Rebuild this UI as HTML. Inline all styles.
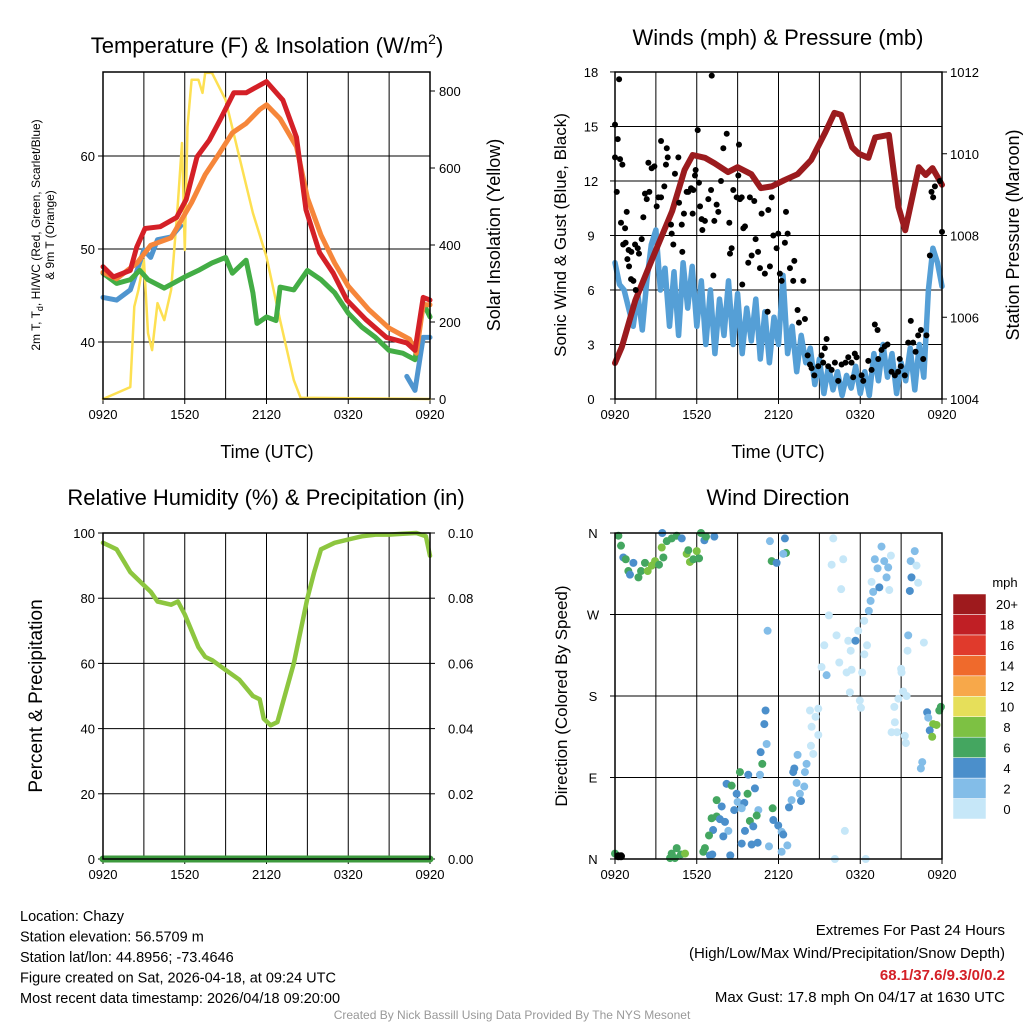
<!DOCTYPE html>
<html><head><meta charset="utf-8"><style>
body{margin:0;background:#fff;}
svg{display:block;font-family:"Liberation Sans",sans-serif;}
</style></head><body>
<svg id="c" width="1024" height="1024" viewBox="0 0 1024 1024"></svg>
<script>
// ---------- DATA ----------
const tempHours=[0,0.76,2.0,2.47,3.08,4.2,5.4,6.1,6.9,7.8,8.6,9.6,10.5,11.5,12.0,13.2,14.2,14.9,15.9,16.9,17.9,19.3,20.8,22.3,22.9,23.5,24];
const tempRed=[48.1,47.0,47.7,50.2,52.2,52.4,53.4,55.3,59.9,61.7,63.9,66.8,66.8,67.6,68.0,66.0,62.0,54.2,49.6,47.4,44.5,42.4,40.5,39.9,39.1,44.8,44.5];
const orHours=[0,1,2.5,3.5,5,6.5,7.5,8.5,9.5,10.5,11.5,12,13,14.2,15,16,17,18,19.5,21,22.5,23,23.5,24];
const tempOrange=[47.5,46.8,48.5,50.4,51.2,55,58,60.2,62.5,63.5,65,65.5,64,61,55.5,51.5,48.5,46,43.5,41.5,40.3,38.8,44,44];
const dewHours=[0,1,2,2.7,3.3,4.5,6,7,8,9,9.5,10.5,11,11.3,12,12.7,13,14,15,16,17,18,19,20,21,22,22.9,23.5,24];
const dewGreen=[47.4,46.3,46.7,47.7,46.7,45.8,47,47.7,48.5,49.1,47.4,48.8,45.3,42.0,42.7,42.3,45.9,45.6,47.7,46.7,45.3,43.1,41.6,40.5,39.1,38.8,38.1,44.2,42.7];
const hiHours=[0,1,2,2.5,3,3.5,4,5,5.7];
const hiBlue=[44.8,44.5,45.6,47.7,49.9,49.1,51,51.3,52.5];
const hiHours2=[22.3,22.9,23.5,24];
const hiBlue2=[36.3,34.8,40.5,40.5];
const solHours=[0,1.5,2,2.3,2.6,3,3.3,3.6,4,4.5,5,5.5,5.8,6,6.2,6.5,7,7.3,7.5,8,9,10,11,12,13,14,14.5,24];
const solar=[0,23,31,240,283,361,171,127,249,205,283,509,665,387,707,829,829,795,847,847,777,629,483,369,205,49,3,0];
const tempTicks=[40,50,60];
const solTicks=[0,200,400,600,800];
const timeLabels=["0920","1520","2120","0320","0920"];

const presHours=[0,0.5,1.5,2.7,4.2,5.1,5.7,6.6,7.3,8.3,9.0,10.0,10.7,11.5,12.4,13.4,14.4,15.4,16.1,16.6,17.4,17.9,18.6,19.1,20.1,20.8,21.3,22.3,22.8,23.3,24];
const pressure=[1004.88,1005.27,1006.42,1007.4,1008.6,1009.6,1009.97,1009.9,1009.77,1009.55,1009.67,1009.5,1009.16,1009.2,1009.35,1009.5,1009.85,1010.5,1011.0,1010.95,1010.16,1010.0,1009.9,1010.4,1010.46,1008.7,1008.13,1009.67,1009.48,1009.65,1009.24];
const windSonic=[7.5,6.3,6.0,5.0,4.0,5.8,3.8,6.5,8.5,9.3,6.0,7.2,4.0,7.0,3.5,7.5,5.0,7.3,4.0,6.5,3.0,6.0,2.5,5.5,3.5,6.5,3.0,5.8,2.5,5.0,3.2,5.5,2.2,4.8,2.0,4.5,3.0,6.8,2.5,4.0,1.5,3.5,2.0,2.8,0.8,2.2,0.3,1.8,0.5,1.5,0.2,1.3,0.6,1.8,0.3,1.5,0.2,2.5,1.0,3.0,1.2,2.5,0.3,2.0,1.0,2.8,0.5,3.0,1.2,6.0,8.3,7.5,6.2];
const gustHours=[0.3,0,0.2,0,0.37,0.54,0.13,0.44,0.74,0.86,0.6,0.78,1.0,1.2,1.47,1.67,1.76,0.91,1.03,1.18,1.35,1.52,1.96,2.08,2.2,2.33,2.52,2.45,2.69,2.89,3.06,3.18,3.38,3.38,3.8,3.87,3.74,3.62,4.16,4.28,4.11,4.4,4.65,4.7,5.06,4.9,4.94,5.26,5.38,5.58,5.75,5.87,5.92,6.07,6.16,5.7,6.24,6.36,6.41,6.6,6.85,7.05,7.1,7.22,7.29,7.46,7.58,7.78,7.95,8.2,8.39,8.44,8.56,8.68,8.93,9.05,9.1,9.17,9.3,9.34,9.42,9.54,9.78,9.9,10.03,10.22,10.32,10.5,10.64,10.76,11.0,11.2,11.25,11.37,11.5,11.62,11.86,11.98,12.1,12.23,12.47,12.55,12.67,12.84,13.08,13.16,13.4,13.5,13.82,13.94,14.14,14.31,14.43,14.63,14.92,15.16,15.28,15.4,15.53,15.65,15.9,16.14,16.38,16.63,16.92,17.12,17.36,17.48,17.6,17.73,18.1,18.22,18.59,18.83,19.07,19.27,19.32,19.56,19.8,20.0,20.3,20.54,20.78,20.9,20.98,21.27,21.52,21.71,21.88,22.06,22.25,22.45,22.62,22.86,23.11,23.23,23.35,23.48,23.84,24.0];
const gustMph=[17.6,15.1,14.3,13.3,13.2,12.9,11.4,9.7,9.4,10.3,8.5,8.6,8.2,8.1,8.5,8.3,8.0,7.7,7.3,6.6,6.5,6.0,8.8,10.0,11.3,11.0,11.4,13.0,12.7,12.8,10.6,11.1,11.1,14.2,13.8,13.3,12.9,11.7,9.1,8.5,9.6,12.4,13.3,10.8,10.2,9.6,8.1,11.4,11.4,11.6,11.5,12.3,12.6,14.8,11.9,10.2,10.6,9.9,9.3,9.8,11.0,11.5,17.8,6.8,9.8,10.7,10.3,12.0,13.8,14.6,9.7,8.0,8.3,11.5,11.1,12.3,14.0,11.0,11.1,6.3,9.4,9.5,7.5,11.1,7.9,10.9,8.8,8.1,7.2,10.2,6.9,4.8,10.4,7.3,11.1,9.0,8.3,9.1,6.9,6.5,8.6,10.3,9.1,7.2,6.5,7.6,4.9,4.2,6.5,4.4,2.4,1.9,1.7,1.3,1.8,2.4,2.0,2.8,3.3,1.8,1.6,2.0,1.0,1.9,2.0,2.3,2.0,1.2,2.5,2.3,1.3,1.0,2.1,1.6,4.1,3.8,2.2,2.7,2.9,3.0,1.5,1.3,1.5,2.2,1.8,1.3,3.1,4.3,3.1,2.6,3.5,3.8,2.2,3.5,7.9,11.4,11.1,11.7,12.0,9.2];
const windTicks=[0,3,6,9,12,15,18];
const presTicks=[1004,1006,1008,1010,1012];

const rhHours=[0,0.5,1,2,3,3.5,4,5,5.5,6,6.5,7,7.5,8,9,10,11,11.5,11.8,12.3,12.8,13.2,14,14.5,15,15.5,16,17,18,19,20,21,22,23,23.7,24];
const rh=[97,96,95,88,84,82,79,78,79,75,70,65,62,61,58,55,50,49,43,41,42,48,60,70,80,88,95,97,98,99,99.5,99.5,99.8,100,99,93];
const precipHours=[0,24];
const precip=[0,0];
const rhTicks=[0,20,40,60,80,100];
const precipTicks=["0.00","0.02","0.04","0.06","0.08","0.10"];

const dirHours=[0.25,0.44,0.61,0.79,0.98,1.1,1.35,1.72,1.91,2.2,2.4,2.7,2.94,3.23,3.43,3.55,3.8,3.47,4.16,4.53,4.9,5.26,5.38,5.5,5.75,6.0,6.17,6.31,6.56,6.68,7.29,11.37,12.47,11.5,11.86,12.55,12.35,11.2,16.02,15.9,16.75,16.6,15.7,16.26,15.36,15.16,15.53,16.46,17.0,17.36,17.12,17.3,17.65,17.85,18.3,18.5,18.14,17.24,17.97,18.05,18.29,18.63,18.76,18.83,18.95,19.4,19.07,19.27,19.56,19.76,19.93,20.05,20.25,20.13,21.0,21.03,21.15,21.4,20.8,20.5,20.54,20.3,20.7,21.27,21.35,21.52,21.47,22.67,21.7,22.0,22.13,21.76,22.25,21.64,22.91,22.99,23.35,23.6,23.92,23.8,23.1,23.28,22.55,22.45,16.87,16.14,18.4,14.92,14.31,14.72,14.43,14.92,14.38,14.55,14.06,13.94,13.4,13.16,13.08,13.89,13.57,13.33,13.65,12.96,12.77,11.05,10.96,11.13,10.69,10.81,10.64,9.78,9.17,8.19,8.56,8.93,10.27,9.73,9.0,9.49,7.46,7.83,8.75,9.3,10.52,11.57,10.4,9.9,7.09,7.46,7.7,8.07,8.32,7.2,6.9,7.95,9.54,10.15,11.62,11.98,12.23,12.35,9.3,10.03,10.47,11.3,12.65,12.23,8.46,6.6,6.48,6.97,7.14,4.16,4.04,4.53,4.84,5.14,4.4,0.0,0.25,0.44];
const dirDeg=[357,346,333,331,318,314,327,311,318,327,318,324,329,325,344,333,351,360,354,357,354,337,341,328,331,340,332,360,352,356,356,351,354,329,327,338,337,252,354,325,331,298,269,247,236,212,203,217,206,209,241,230,241,252,226,236,206,184,175,167,263,274,285,306,295,300,331,321,345,329,311,322,335,297,210,206,185,180,177,168,151,140,140,136,128,247,230,239,329,340,324,311,305,296,162,156,149,148,168,164,142,135,107,100,31,0,0,166,164,157,146,137,125,116,105,96,115,100,96,80,72,84,64,65,57,164,149,127,118,105,93,93,96,83,81,72,78,72,63,62,65,58,54,56,54,56,48,42,45,47,44,41,31,32,26,25,31,36,43,37,30,27,17,16,18,14,15,8,4,12,8,4,5,6,1,12,5,6,1,6,3,3];
const dirSpeed=[6,6,4,6,6,4,4,6,6,6,8,8,8,6,8,6,6,4,6,6,4,8,6,8,6,8,6,6,4,6,4,2,4,6,4,6,2,2,0,0,0,0,0,0,0,0,2,0,0,0,0,0,4,0,0,0,0,0,0,0,0,2,2,0,2,4,2,2,2,2,2,2,0,0,0,0,0,0,0,0,0,0,0,0,0,2,0,0,2,2,0,4,0,4,4,2,8,8,6,6,4,8,2,2,0,0,0,0,0,0,0,0,0,0,2,2,2,4,4,2,2,2,4,2,4,4,4,2,4,6,2,4,6,4,6,4,4,6,2,4,6,4,4,2,2,6,6,6,6,6,4,4,2,4,6,4,4,4,4,4,2,4,4,4,4,2,2,2,4,6,6,4,4,6,6,6,6,8,6,6];
const dirLabels=["N","E","S","W","N"];
const speedBins=["0","2","4","6","8","10","12","14","16","18","20+"];
const speedColors=["#c6e7f8","#83bde8","#4b8fcb","#44a660","#7dc143","#e6df5a","#f7a84a","#ef6a2c","#e03a2c","#c01f25","#9e1a1d"];

// ---------- DRAW ----------
const NS="http://www.w3.org/2000/svg";
const svg=document.getElementById('c');
function mk(tag,attrs,parent){const e=document.createElementNS(NS,tag);for(const k in attrs)e.setAttribute(k,attrs[k]);(parent||svg).appendChild(e);return e;}
function txt(x,y,s,size,anchor,rot,parent,extra){const t=mk('text',Object.assign({x:x,y:y,'font-size':size,'text-anchor':anchor||'middle',fill:'#000'},extra||{}),parent);if(rot)t.setAttribute('transform','rotate(-90 '+x+' '+y+')');t.textContent=s;return t;}

function panel(name,L,R,T,B){
  const g=mk('g',{});
  
  
  const xs=h=>L+(R-L)*h/24;
  for(let i=1;i<8;i++){const x=xs(i*3);const l=mk('line',{x1:x,x2:x,y1:T,y2:B,stroke:'#000','stroke-width':1},g);}
  timeLabels.forEach((s,i)=>{const x=xs(i*6);mk('line',{x1:x,x2:x,y1:B,y2:B+5,stroke:'#000'},g);const t=txt(x,B+20,s,13,'middle',false,g);});
  return {g,xs};
}
function hgrid(g,L,R,y){const l=mk('line',{x1:L,x2:R,y1:y,y2:y,stroke:'#000','stroke-width':1},g);}
function frame(g,L,R,T,B){const r=mk('rect',{x:L,y:T,width:R-L,height:B-T,fill:'none',stroke:'#000','stroke-width':1.5},g);}
function pathOf(hs,vs,xs,ys){let d='';let pen=false;hs.forEach((h,i)=>{if(vs[i]==null){pen=false;return;}d+=(pen?'L':'M')+xs(h).toFixed(1)+' '+ys(vs[i]).toFixed(1);pen=true;});return d;}
function line(g,name,hs,vs,xs,ys,color,w){const p=mk('path',{d:pathOf(hs,vs,xs,ys),fill:'none',stroke:color,'stroke-width':w,'stroke-linejoin':'round','stroke-linecap':'round'},g);return p;}

// Panel 1
(function(){
  const L=103,R=430,T=72,B=399;
  const {g,xs}=panel('temperature-panel',L,R,T,B);
  const ys=v=>156-(v-60)*9.3;
  const ysol=v=>399-v*0.385;
  tempTicks.forEach(v=>{hgrid(g,L,R,ys(v));mk('line',{x1:L-5,x2:L,y1:ys(v),y2:ys(v),stroke:'#000'},g);const t=txt(L-8,ys(v)+5,String(v),13,'end',false,g);});
  solTicks.forEach(v=>{mk('line',{x1:R,x2:R+5,y1:ysol(v),y2:ysol(v),stroke:'#000'},g);const t=txt(R+9,ysol(v)+5,String(v),13,'start',false,g);});
  line(g,'solar-line',solHours,solar,xs,ysol,'#fde052',2.5);
  line(g,'hiwc-line',hiHours,hiBlue,xs,ys,'#4f95cf',5);
  line(g,'hiwc-line-late',hiHours2,hiBlue2,xs,ys,'#4f95cf',5);
  line(g,'dewpoint-line',dewHours,dewGreen,xs,ys,'#43ad45',5);
  line(g,'temp-9m-line',orHours,tempOrange,xs,ys,'#f6863a',5);
  line(g,'temp-2m-line',tempHours,tempRed,xs,ys,'#d42027',5);
  frame(g,L,R,T,B);
  const t1=mk('text',{x:267,y:53,'font-size':22,'text-anchor':'middle'},g);t1.innerHTML='Temperature (F) &amp; Insolation (W/m<tspan font-size="14" dy="-9">2</tspan><tspan dy="9">)</tspan>';
  
  const a=mk('text',{x:40,y:235,'font-size':12,'text-anchor':'middle',transform:'rotate(-90 40 235)'},g);a.innerHTML='2m T, T<tspan font-size="9" dy="3">d</tspan><tspan dy="-3">, HI/WC (Red, Green, Scarlet/Blue)</tspan>';
  
  const a2=txt(54,235,'& 9m T (Orange)',12,'middle',true,g);
  const a3=txt(500,235,'Solar Insolation (Yellow)',18,'middle',true,g);
  const a4=txt(267,458,'Time (UTC)',18,'middle',false,g);
})();

// Panel 2
(function(){
  const L=615,R=942,T=72,B=399;
  const {g,xs}=panel('winds-panel',L,R,T,B);
  const ys=v=>399-v*18.17;
  const yp=v=>399-(v-1004)*40.875;
  windTicks.forEach(v=>{if(v>0&&v<18)hgrid(g,L,R,ys(v));mk('line',{x1:L-5,x2:L,y1:ys(v),y2:ys(v),stroke:'#000'},g);const t=txt(L-24,ys(v)+5,String(v),13,'middle',false,g);});
  presTicks.forEach(v=>{mk('line',{x1:R,x2:R+5,y1:yp(v),y2:yp(v),stroke:'#000'},g);const t=txt(R+8,yp(v)+5,String(v),13,'start',false,g);});
  const wh=windSonic.map((v,i)=>i/3);
  line(g,'sonic-wind-line',wh,windSonic,xs,ys,'#559fd6',5.5);
  line(g,'pressure-line',presHours,pressure,xs,yp,'#9b1b1e',6);
  gustHours.forEach((h,i)=>{const c=mk('circle',{cx:xs(h),cy:ys(gustMph[i]),r:3,fill:'#000'},g);});
  frame(g,L,R,T,B);
  const t1=txt(778,45,'Winds (mph) & Pressure (mb)',22,'middle',false,g);
  const a=txt(566,235,'Sonic Wind & Gust (Blue, Black)',17,'middle',true,g);
  const b=txt(1019,235,'Station Pressure (Maroon)',18,'middle',true,g);
  const c=txt(778,458,'Time (UTC)',18,'middle',false,g);
})();

// Panel 3
(function(){
  const L=103,R=430,T=533,B=859;
  const {g,xs}=panel('humidity-panel',L,R,T,B);
  const ys=v=>859-v*3.26;
  const ypr=v=>859-v*3260;
  rhTicks.forEach((v,i)=>{if(v>0&&v<100)hgrid(g,L,R,ys(v));mk('line',{x1:L-5,x2:L,y1:ys(v),y2:ys(v),stroke:'#000'},g);const t=txt(L-8,ys(v)+5,String(v),13,'end',false,g);
    const t2=txt(R+18,ys(v)+5,precipTicks[i],13,'start',false,g);mk('line',{x1:R,x2:R+5,y1:ys(v),y2:ys(v),stroke:'#000'},g);});
  line(g,'rh-line',rhHours,rh,xs,ys,'#8dc63f',4.5);
  line(g,'precip-line',precipHours,precip,xs,ypr,'#3d9a3e',7);
  frame(g,L,R,T,B);
  const t1=txt(266,505,'Relative Humidity (%) & Precipitation (in)',22,'middle',false,g);
  const a=txt(42,696,'Percent & Precipitation',19,'middle',true,g);
})();

// Panel 4
(function(){
  const L=615,R=942,T=533,B=859;
  const {g,xs}=panel('wind-direction-panel',L,R,T,B);
  const ys=d=>859-d*326/360;
  dirLabels.forEach((s,i)=>{const y=ys(i*90);if(i>0&&i<4)hgrid(g,L,R,y);mk('line',{x1:L-5,x2:L,y1:y,y2:y,stroke:'#000'},g);const t=txt(L-22,y+5,s,13,'middle',false,g);});
  dirHours.forEach((h,i)=>{const idx=Math.min(10,Math.round(dirSpeed[i]/2));const c=mk('circle',{cx:xs(h),cy:ys(dirDeg[i]),r:4,fill:speedColors[idx]},g);});
  frame(g,L,R,T,B);
  const t1=txt(778,505,'Wind Direction',22,'middle',false,g);
  const a=txt(567,696,'Direction (Colored By Speed)',17,'middle',true,g);
  const cb=mk('g',{},svg);
  
  
  const h=225/11;
  speedBins.forEach((s,i)=>{const y=819-(i+1)*h;const r=mk('rect',{x:953,y:y,width:33,height:h,fill:speedColors[i],stroke:'#fff','stroke-width':0.5},cb);const t=txt(1007,y+h/2+5,s,13,'middle',false,cb);});
  const u=txt(1005,587,'mph',13,'middle',false,cb);
})();

// Footer
(function(){
  const g=mk('g',{});
  
  
  const lines=["Location: Chazy","Station elevation: 56.5709 m","Station lat/lon: 44.8956; -73.4646","Figure created on Sat, 2026-04-18, at 09:24 UTC","Most recent data timestamp: 2026/04/18 09:20:00"];
  lines.forEach((s,i)=>{const t=txt(20,921+i*20.5,s,14.5,'start',false,g);});
  const r1=txt(1005,935,'Extremes For Past 24 Hours',15,'end',false,g);
  const r2=txt(1005,958,'(High/Low/Max Wind/Precipitation/Snow Depth)',15,'end',false,g);
  const r3=txt(1005,980,'68.1/37.6/9.3/0/0.2',15,'end',false,g,{fill:'#d42027','font-weight':'bold'});
  const r4=txt(1005,1002,'Max Gust: 17.8 mph On 04/17 at 1630 UTC',15,'end',false,g);
  const cr=txt(512,1019,'Created By Nick Bassill Using Data Provided By The NYS Mesonet',12,'middle',false,g,{fill:'#999'});
})();
</script>
</body></html>
